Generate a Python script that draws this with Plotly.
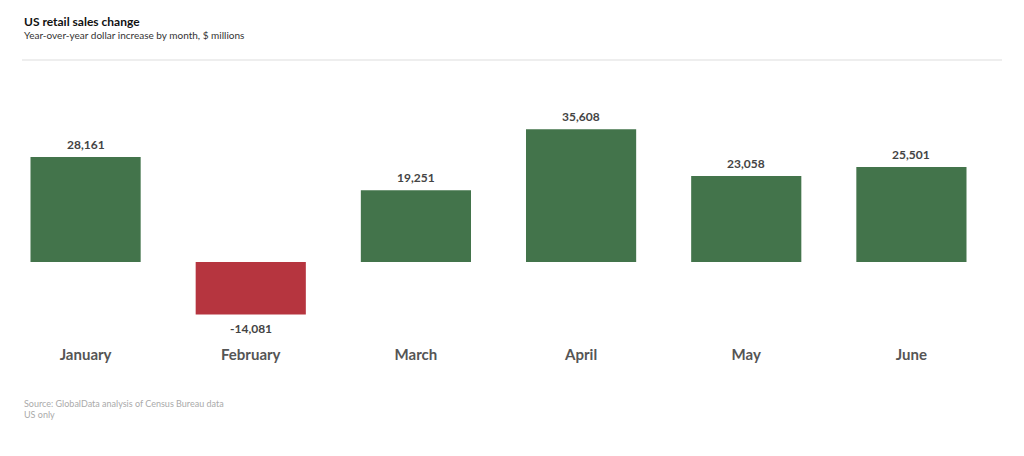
import plotly.graph_objects as go

months = ["January", "February", "March", "April", "May", "June"]
values = [28161, -14081, 19251, 35608, 23058, 25501]

GREEN = "#43744b"
RED = "#b6353f"
colors = [GREEN if v >= 0 else RED for v in values]

W, H = 1024, 456
fig = go.Figure()
fig.add_trace(go.Bar(
    x=months, y=values, marker=dict(color=colors, line=dict(width=0)),
    width=0.667, hoverinfo="skip",
))

for m, v in zip(months, values):
    fig.add_annotation(
        x=m, y=v, xref="x", yref="y",
        text=f"<b>{v:,}</b>", showarrow=False,
        yanchor="bottom" if v >= 0 else "top",
        yshift=3 if v >= 0 else -4,
        font=dict(family="Lato", size=12, color="#444444"),
    )

# title, subtitle, divider, source (positions given in pixels from bottom, converted below)
fig.add_annotation(x=22, y=H - 21, text="<b>US retail sales change</b>",
                   showarrow=False, xanchor="left", yanchor="middle",
                   font=dict(family="Lato", size=12, color="#111111"))
fig.add_annotation(text="Year-over-year dollar increase by month, $ millions",
                   x=22, y=H - 35, showarrow=False, xanchor="left", yanchor="middle",
                   font=dict(family="Lato", size=10, color="#333333"))
fig.add_annotation(text="Source: GlobalData analysis of Census Bureau data",
                   x=22, y=H - 403, showarrow=False, xanchor="left", yanchor="middle",
                   font=dict(family="Lato", size=9, color="#aaaaaa"))
fig.add_annotation(text="US only",
                   x=22, y=H - 414, showarrow=False, xanchor="left", yanchor="middle",
                   font=dict(family="Lato", size=9, color="#aaaaaa"))

L, R, T, B = 3, 30, 80, 112
pw, ph = W - L - R, H - T - B
for a in fig.layout.annotations[len(months):]:
    a.update(xref="paper", yref="paper", x=(a.x - L) / pw, y=(a.y - B) / ph)

fig.add_shape(type="line", xref="paper", yref="paper",
              x0=(22 - L) / pw, x1=(1002 - L) / pw,
              y0=(H - 60 - B) / ph, y1=(H - 60 - B) / ph,
              line=dict(color="#dddddd", width=1))

px_per_unit = 105 / 28161
zero_y = 262
ytop = (zero_y - T) / px_per_unit
ybot = -((T + ph) - zero_y) / px_per_unit

fig.update_layout(
    width=W, height=H, margin=dict(l=L, r=R, t=T, b=B),
    paper_bgcolor="white", plot_bgcolor="white", showlegend=False,
    bargap=0.333,
    xaxis=dict(showgrid=False, zeroline=False, showline=False, ticks="",
               tickfont=dict(family="Lato", size=15, color="#555555"),
               tickprefix="<b>", ticksuffix="</b>"),
    yaxis=dict(range=[ybot, ytop], visible=False, fixedrange=True),
)

fig.write_html("out.html", config={"displayModeBar": False})
